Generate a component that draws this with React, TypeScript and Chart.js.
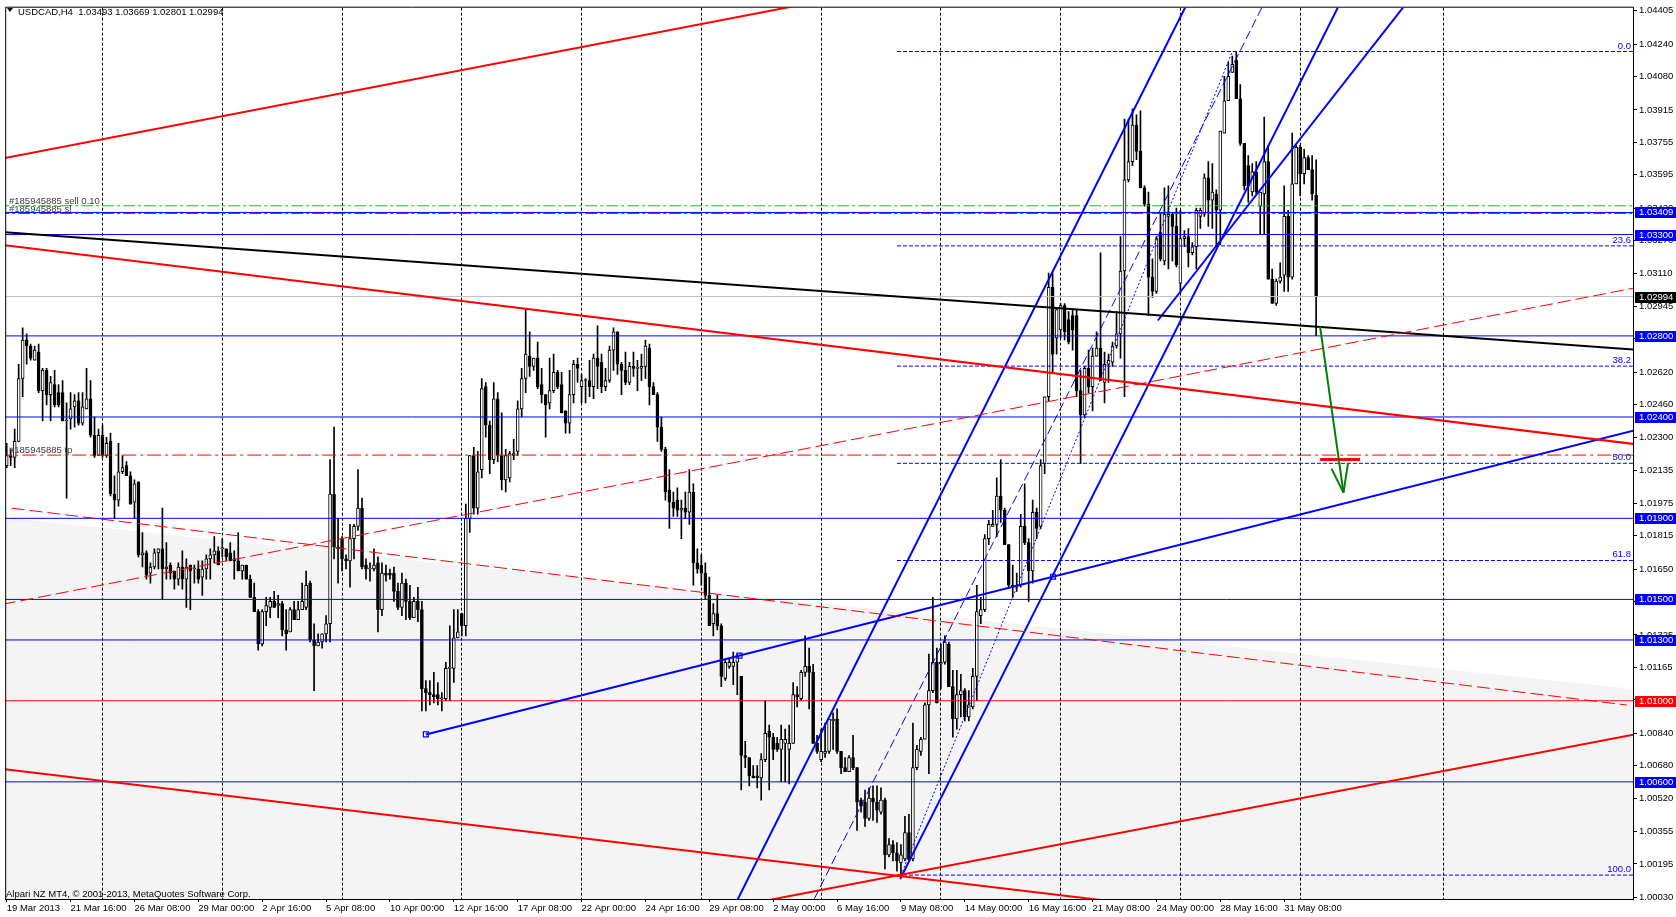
import React, { useEffect, useRef } from "react";
import { Chart, registerables } from "chart.js";

Chart.register(...registerables);

const W = 1676;
const H = 917;
const FONT = "'Liberation Sans', Arial, sans-serif";
const FS = 9.5;

// ---- OHLC of USDCAD H4 bars, in pips above 1.0000 ----
const opens = [
  216,221,220,228,259,278,275,268,272,253,263,251,256,252,252,238,239,245,248,237,
  244,249,231,221,231,221,228,202,199,213,216,211,198,208,172,173,163,166,173,175,
  165,167,164,160,166,160,167,165,165,161,165,170,172,174,175,175,173,170,169,164,
  167,160,151,144,128,144,146,149,147,148,135,134,145,140,145,146,158,130,127,129,
  133,138,202,176,180,170,169,180,186,195,167,165,165,168,145,163,163,163,154,146,
  158,149,141,149,145,106,104,103,103,101,101,116,116,131,143,137,190,221,195,214,
  255,236,219,249,221,209,210,221,223,244,259,270,265,269,256,251,247,253,262,256,
  243,237,251,266,255,258,258,255,269,267,255,258,273,282,266,263,257,265,264,264,
  265,274,255,251,235,224,204,198,199,194,195,193,203,168,167,163,152,138,143,137,
  111,117,117,119,112,73,72,63,63,62,71,85,82,79,76,79,76,79,103,101,
  114,117,114,79,71,74,75,90,91,75,67,65,72,67,51,50,42,52,50,45,
  51,24,29,25,20,22,35,22,67,75,81,98,105,119,118,119,128,107,91,103,
  105,92,97,112,142,145,180,186,187,201,194,177,157,156,157,186,178,164,193,186,
  217,250,304,279,283,295,288,290,290,253,241,264,255,270,274,257,266,267,275,281,
  312,357,366,384,371,353,345,309,302,331,317,339,340,334,306,328,329,321,324,339,
  340,358,347,350,342,380,396,410,416,397,375,364,351,361,344,350,366,308,296,307,
  310,339,309,355,373,360,368,362,349.3,
];
const highs = [
  227,224,234,266,284,281,276,275,276,264,264,260,263,256,258,247,252,251,252,252,
  264,258,240,234,236,230,232,211,227,221,218,213,209,208,183,174,168,175,175,195,
  178,168,164,168,174,170,167,167,169,169,172,175,181,176,180,175,178,174,183,167,
  167,162,158,145,145,151,151,154,152,149,145,146,149,149,158,164,159,138,133,133,
  142,219,235,190,181,172,187,187,214,200,170,168,175,171,168,167,165,166,158,163,
  160,157,151,156,149,110,110,114,109,104,119,137,145,145,143,197,221,225,223,259,
  257,238,257,252,242,224,223,229,248,264,293,282,269,277,264,251,269,271,263,262,
  243,263,268,269,261,259,268,271,285,271,264,275,284,282,267,272,267,272,268,271,
  278,276,257,252,240,225,214,203,205,199,203,214,207,175,172,168,161,148,152,138,
  120,121,124,123,112,80,72,68,68,74,100,88,84,82,88,86,88,109,107,115,
  132,126,118,83,86,89,91,94,96,75,72,73,83,67,52,56,57,58,58,57,
  52,32,31,30,29,43,44,89,78,82,99,123,151,126,128,132,129,115,115,113,
  106,105,116,157,151,182,189,194,210,219,195,177,167,163,192,207,180,199,195,219,
  250,311,311,293,296,296,292,293,293,263,265,273,274,282,321,272,271,277,292,329,
  387,387,392,389,391,354,351,318,329,341,353,354,341,343,342,332,333,326,343,343,
  360,366,365,352,381,408,415,418,420,404,375,369,365,366,351,388,374,313,308,316,
  354,342,380,374,374,372,369,369,366.9,
];
const lows = [
  215,216,215,228,250,266,268,268,252,238,246,238,245,245,238,200,234,235,236,236,
  244,230,220,221,220,220,201,190,196,212,211,197,190,171,166,160,158,165,165,150,
  160,160,155,157,155,146,145,158,158,152,160,160,168,167,171,169,169,160,164,160,
  160,151,144,125,127,137,141,146,141,132,125,134,140,140,145,145,129,105,127,126,
  129,129,170,158,164,165,156,170,184,165,160,159,164,134,142,159,160,149,145,142,
  140,140,141,139,95,95,98,99,98,95,100,100,109,131,132,132,183,192,192,210,
  230,212,217,218,204,203,208,219,221,240,252,260,263,254,247,230,244,252,254,242,
  232,232,247,257,247,247,250,249,254,252,253,257,263,261,251,256,256,260,253,258,
  259,246,251,228,223,199,185,191,191,180,190,187,157,163,157,150,137,132,135,107,
  110,116,108,103,56,67,58,62,57,51,70,56,71,75,60,60,59,79,97,100,
  112,96,79,74,70,72,74,76,74,64,65,65,66,36,45,38,41,41,40,44,
  17,23,21,16,13,21,21,21,66,73,81,64,104,99,106,118,107,82,86,92,
  90,90,96,100,138,144,177,186,181,188,177,156,151,154,156,177,149,158,180,185,
  212,248,262,271,279,278,276,273,250,217,240,252,243,270,258,247,257,265,274,269,
  250,356,364,367,353,344,290,299,301,317,315,313,317,314,301,324,314,320,313,333,
  339,334,333,324,325,380,396,410,397,374,352,346,349,350,330,330,308,296,295,306,
  302,302,308,355,349,355,362,347,280.1,
];
const closes = [
  221,220,228,259,278,275,269,273,253,263,251,257,246,246,238,238,244,248,237,245,
  249,231,221,231,221,227,202,199,213,215,211,197,207,172,173,162,166,173,175,165,
  166,163,160,166,160,166,164,165,160,165,170,172,174,167,175,171,169,169,164,167,
  160,151,144,128,144,147,149,146,148,135,133,145,140,145,149,157,130,127,129,133,
  138,202,176,175,170,169,180,186,195,166,165,165,167,145,163,162,162,154,146,158,
  149,141,149,145,106,104,103,102,101,101,116,116,131,134,137,190,221,195,213,254,
  236,219,249,221,209,221,222,222,244,259,271,265,269,255,251,246,253,262,255,242,
  237,251,266,264,258,258,255,269,265,255,258,273,282,266,263,257,265,264,264,265,
  275,255,251,235,224,203,198,195,194,195,193,203,168,165,163,152,137,143,137,112,
  119,119,119,122,73,72,63,62,62,71,84,82,76,76,81,81,79,103,102,114,
  117,114,79,75,75,75,91,91,75,67,65,72,67,50,48,42,52,50,46,51,
  24,29,25,21,24,35,22,67,76,81,98,105,119,99,119,129,107,91,103,105,
  92,98,112,144,145,180,187,187,201,194,177,157,156,157,186,178,164,193,185,216,
  250,304,271,293,295,282,277,283,253,241,264,255,270,274,258,266,268,275,281,312,
  357,366,384,371,353,345,309,302,328,318,340,340,334,315,328,329,321,324,342,342,
  358,347,351,342,381,396,408,414,397,375,354,354,361,351,351,366,308,296,307,309,
  339,309,355,373,360,368,362,350,299.4,
];
const pipToPrice = (p: number) => 1 + p / 10000;

// ---- axes ----
const xMin = -0.375;
const xMax = 407.375;
const yMin = 1.000221;
const yMax = 1.044191;
const dateLabels = [
  "19 Mar 2013", "21 Mar 16:00", "26 Mar 08:00", "29 Mar 00:00", "2 Apr 16:00",
  "5 Apr 08:00", "10 Apr 00:00", "12 Apr 16:00", "17 Apr 08:00", "22 Apr 00:00",
  "24 Apr 16:00", "29 Apr 08:00", "2 May 00:00", "6 May 16:00", "9 May 08:00",
  "14 May 00:00", "16 May 16:00", "21 May 08:00", "24 May 00:00", "28 May 16:00",
  "31 May 08:00",
];
const dateLabelBars = [0,16,32,48,64,80,96,112,128,144,160,176,192,208,224,240,256,272,288,304,320];
const weekGridBars = [24, 54, 84, 114, 144, 174, 204, 234, 264, 294, 324, 360];
const priceTicks = [
  1.04405, 1.0424, 1.0408, 1.03915, 1.03755, 1.03595, 1.0343, 1.0327, 1.0311, 1.02945,
  1.02785, 1.0262, 1.0246, 1.023, 1.02135, 1.01975, 1.01815, 1.0165, 1.0149, 1.01325,
  1.01165, 1.01005, 1.0084, 1.0068, 1.0052, 1.00355, 1.00195, 1.0003,
];

// ---- horizontal levels ----
const blueLevels = [1.03409, 1.033, 1.028, 1.024, 1.019, 1.015, 1.013, 1.006];
const redLevels = [1.01];
const bidPrice = 1.02994;
const orderOpenPrice = 1.03442;
const orderSlPrice = 1.03404;
const orderTpPrice = 1.02212;
const orderTicket = "#185945885";

// ---- trend lines: [bar, price] anchor pairs ----
const redUpperLine = [[-1, 1.03675], [200, 1.04437]];
const blackLine = [[-1, 1.03312], [410, 1.02729]];
const redMiddleLine = [[-1, 1.03249], [410, 1.02261]];
const redDashRising = [[-1, 1.01476], [410, 1.03045]];
const redDashFalling = [[1.25, 1.0195], [405.8, 1.00979]];
const redLowerFalling = [[-1, 1.00664], [300, 0.99956]];
const redLowerRising = [[180, 0.99976], [410, 1.00842]];
const blueSupport = [[105, 1.00834], [410, 1.02345]];
const blueSupportAnchors = [[105, 1.00834], [183.55, 1.01223], [262.1, 1.01612]];
const channelLeft = [[170, 0.99506], [300, 1.04609]];
const channelRight = [[223.8, 1.0012], [340, 1.04677]];
const channelMedian = [[195, 0.99737], [320, 1.04639]];
const steepLine = [[288.35, 1.02876], [360, 1.04677]];
const greyZoneEdge = [[-0.375, 1.01904], [407.375, 1.01058]];
const arrowShaft = [[329, 1.02844], [334.85, 1.02027]];
const arrowLeft = [[331.85, 1.02145], [334.85, 1.02027]];
const arrowRight = [[336.0, 1.02174], [334.85, 1.02027]];
const targetMark = [[329, 1.0219], [339, 1.0219]];

// ---- Fibonacci retracement ----
const fibLow = [224, 1.0014];
const fibHigh = [307, 1.04203];
const fibStartBar = 223;
const fibRatios = [0, 23.6, 38.2, 50, 61.8, 100];
const fibPrice = (r: number) => fibHigh[1] - (r / 100) * (fibHigh[1] - fibLow[1]);

const title = "USDCAD,H4  1.03493 1.03669 1.02801 1.02994";
const copyright = "Alpari NZ MT4, \u00a9 2001-2013, MetaQuotes Software Corp.";

const BLUE = "#0000ff";
const RED = "#ff0000";

function pts(p: number[][]) {
  return p.map(([x, y]) => ({ x, y }));
}
function lineDs(p: number[][], color: string, width: number, dash: number[] = [], order = 5) {
  return {
    type: "line" as const,
    data: pts(p),
    borderColor: color,
    borderWidth: width,
    borderDash: dash,
    pointRadius: 0,
    fill: false,
    tension: 0,
    order,
    borderCapStyle: "butt" as const,
  };
}
function hLine(v: number, color: string, width: number, dash: number[] = [], order = 8) {
  return lineDs([[xMin - 2, v], [xMax + 2, v]], color, width, dash, order);
}

function buildDatasets() {
  const n = opens.length;
  const wick: any[] = [];
  const body: any[] = [];
  const bodyColors: string[] = [];
  for (let i = 0; i < n; i++) {
    const o = opens[i], c = closes[i];
    const h = Math.max(highs[i], o, c);
    const l = Math.min(lows[i], o, c);
    wick.push({ x: i, y: [pipToPrice(l), pipToPrice(h)] });
    body.push({ x: i, y: [pipToPrice(o), pipToPrice(c)] });
    bodyColors.push(c >= o ? "#ffffff" : "#000000");
  }
  const ds: any[] = [];
  ds.push({ type: "bar", data: wick, backgroundColor: "#000", borderWidth: 0, barThickness: 1, grouped: false, order: 30 });
  ds.push({
    type: "bar", data: body, backgroundColor: bodyColors, borderColor: "#000", borderWidth: 1,
    borderSkipped: false, barThickness: 3, grouped: false, minBarLength: 1, order: 29,
  });
  // horizontal levels
  ds.push(hLine(bidPrice, "#c0c0c0", 1, [], 12));
  ds.push(hLine(orderOpenPrice, "#22b822", 1, [12, 3, 3, 3], 11));
  ds.push(hLine(orderSlPrice, RED, 1, [12, 3, 3, 3], 11));
  ds.push(hLine(orderTpPrice, RED, 1, [14, 4, 3, 4], 11));
  blueLevels.forEach((v) => ds.push(hLine(v, BLUE, 1, [], 10)));
  redLevels.forEach((v) => ds.push(hLine(v, RED, 1, [], 10)));
  // Fibonacci
  fibRatios.forEach((r) => ds.push(lineDs([[fibStartBar, fibPrice(r)], [xMax + 2, fibPrice(r)]], BLUE, 1, [4, 2], 9)));
  ds.push(lineDs([fibLow, fibHigh], BLUE, 1, [2, 2], 9));
  // trend lines
  ds.push(lineDs(redUpperLine, RED, 2));
  ds.push(lineDs(redMiddleLine, RED, 2));
  ds.push(lineDs(redDashRising, RED, 1, [13, 5]));
  ds.push(lineDs(redDashFalling, RED, 1, [13, 5]));
  ds.push(lineDs(redLowerFalling, RED, 2));
  ds.push(lineDs(redLowerRising, RED, 2));
  ds.push(lineDs(blackLine, "#000", 2));
  ds.push(lineDs(channelLeft, BLUE, 2));
  ds.push(lineDs(channelRight, BLUE, 2));
  ds.push(lineDs(channelMedian, BLUE, 1, [9, 4]));
  ds.push(lineDs(steepLine, BLUE, 2));
  ds.push(lineDs(blueSupport, BLUE, 2));
  ds.push({
    type: "line", data: pts(blueSupportAnchors), showLine: false, pointStyle: "rect", pointRadius: 3.5,
    pointBorderColor: BLUE, pointBackgroundColor: "rgba(255,255,255,0)", pointBorderWidth: 1.2, order: 4,
  });
  ds.push(lineDs(targetMark, RED, 3, [], 3));
  ds.push(lineDs(arrowShaft, "#008000", 2, [], 2));
  ds.push(lineDs(arrowLeft, "#008000", 2, [], 2));
  ds.push(lineDs(arrowRight, "#008000", 2, [], 2));
  return ds;
}

const mt4Plugin = {
  id: "mt4",
  beforeDraw(chart: any) {
    const { ctx, chartArea: a, scales } = chart;
    const x = scales.x, y = scales.y;
    ctx.save();
    ctx.fillStyle = "#ffffff";
    ctx.fillRect(0, 0, chart.width, chart.height);
    ctx.beginPath();
    ctx.rect(a.left, a.top, a.right - a.left, a.bottom - a.top);
    ctx.clip();
    const [p0, p1] = greyZoneEdge;
    ctx.beginPath();
    ctx.moveTo(x.getPixelForValue(p0[0]), y.getPixelForValue(p0[1]));
    ctx.lineTo(x.getPixelForValue(p1[0]), y.getPixelForValue(p1[1]));
    ctx.lineTo(x.getPixelForValue(p1[0]), a.bottom);
    ctx.lineTo(x.getPixelForValue(p0[0]), a.bottom);
    ctx.closePath();
    ctx.fillStyle = "#f4f4f4";
    ctx.fill();
    ctx.restore();
  },
  afterDraw(chart: any) {
    const { ctx, chartArea: a, scales } = chart;
    const y = scales.y;
    ctx.save();
    // frame (left + top)
    ctx.strokeStyle = "#000";
    ctx.lineWidth = 1;
    ctx.beginPath();
    ctx.moveTo(a.left + 0.5, a.bottom);
    ctx.lineTo(a.left + 0.5, a.top - 0.5);
    ctx.lineTo(a.right, a.top - 0.5);
    ctx.stroke();

    ctx.font = `${FS}px ${FONT}`;
    ctx.textBaseline = "alphabetic";
    // title
    ctx.fillStyle = "#000";
    ctx.beginPath();
    ctx.moveTo(7, 8);
    ctx.lineTo(13, 8);
    ctx.lineTo(10, 12);
    ctx.closePath();
    ctx.fill();
    ctx.textAlign = "left";
    ctx.fillText(title, 18, 14.5);
    // copyright
    ctx.fillText(copyright, 6, 896.5);
    // order labels
    ctx.fillStyle = "#3a3a3a";
    ctx.fillText(`${orderTicket} sell 0.10`, 9, y.getPixelForValue(orderOpenPrice) - 2);
    ctx.fillText(`${orderTicket} sl`, 9, y.getPixelForValue(orderSlPrice) - 1);
    ctx.fillText(`${orderTicket} tp`, 9, y.getPixelForValue(orderTpPrice) - 2);
    // fib labels
    ctx.fillStyle = BLUE;
    ctx.textAlign = "right";
    fibRatios.forEach((r) => {
      ctx.fillText(r.toFixed(1), a.right - 2, y.getPixelForValue(fibPrice(r)) - 3);
    });
    // price boxes on the axis
    const box = (v: number, bg: string) => {
      const py = Math.round(y.getPixelForValue(v));
      ctx.fillStyle = bg;
      ctx.fillRect(a.right + 2, py - 5, W - a.right - 2, 11);
      ctx.fillStyle = "#ffffff";
      ctx.textAlign = "left";
      ctx.textBaseline = "middle";
      ctx.fillText(v.toFixed(5), a.right + 6, py + 0.5);
    };
    blueLevels.forEach((v) => box(v, BLUE));
    redLevels.forEach((v) => box(v, RED));
    box(bidPrice, "#000000");
    ctx.restore();
  },
};

export default function App() {
  const ref = useRef<HTMLCanvasElement>(null);
  useEffect(() => {
    document.body.style.margin = "0";
    const allXTicks = Array.from(new Set([...dateLabelBars, ...weekGridBars])).sort((p, q) => p - q);
    const chart = new Chart(ref.current as HTMLCanvasElement, {
      type: "bar",
      data: { datasets: buildDatasets() as any },
      options: {
        animation: false,
        responsive: false,
        maintainAspectRatio: false,
        devicePixelRatio: 1,
        events: [],
        layout: { padding: { left: 2, top: 2, right: 0, bottom: 0 } },
        plugins: { legend: { display: false }, tooltip: { enabled: false } },
        scales: {
          x: {
            type: "linear",
            min: xMin,
            max: xMax,
            offset: false,
            afterFit: (s: any) => { s.height = H - 899; },
            afterBuildTicks: (s: any) => { s.ticks = allXTicks.map((v) => ({ value: v })); },
            grid: {
              offset: false,
              color: (c: any) => (weekGridBars.includes(c.tick?.value) ? "#000" : "rgba(0,0,0,0)"),
              tickColor: (c: any) => (dateLabelBars.includes(c.tick?.value) ? "#000" : "rgba(0,0,0,0)"),
              tickLength: 3,
              lineWidth: 1,
            },
            border: { display: true, color: "#000", width: 1, dash: [3, 2] },
            ticks: {
              autoSkip: false,
              maxRotation: 0,
              minRotation: 0,
              align: "start",
              padding: 1,
              color: "#000",
              font: { family: FONT, size: FS },
              callback: (v: any) => {
                const k = dateLabelBars.indexOf(Number(v));
                return k >= 0 ? dateLabels[k] : "";
              },
            },
          },
          y: {
            type: "linear",
            position: "right",
            min: yMin,
            max: yMax,
            afterFit: (s: any) => { s.width = W - 1633; },
            afterBuildTicks: (s: any) => { s.ticks = priceTicks.map((v) => ({ value: v })); },
            grid: { drawOnChartArea: false, drawTicks: true, tickLength: 4, tickColor: "#000" },
            border: { display: true, color: "#000", width: 1 },
            ticks: {
              autoSkip: false,
              padding: 2,
              color: "#000",
              font: { family: FONT, size: FS },
              callback: (v: any) => Number(v).toFixed(5),
            },
          },
        },
      } as any,
      plugins: [mt4Plugin],
    });
    return () => chart.destroy();
  }, []);
  return (
    <div style={{ position: "absolute", left: 0, top: 0, width: W, height: H, background: "#fff" }}>
      <canvas ref={ref} width={W} height={H} style={{ display: "block", width: W, height: H }} />
    </div>
  );
}
